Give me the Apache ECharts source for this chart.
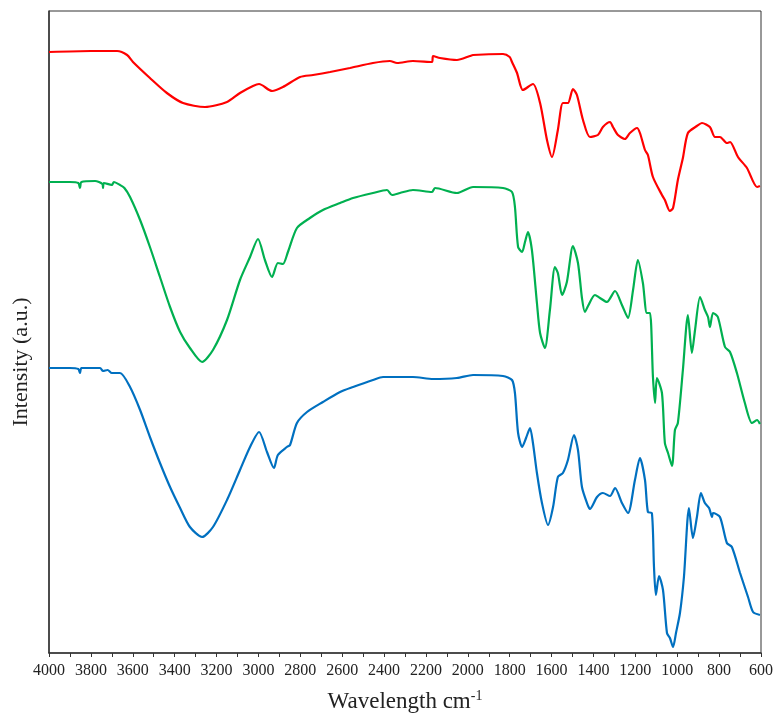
<!DOCTYPE html>
<html>
<head>
<meta charset="utf-8">
<script src="https://cdn.jsdelivr.net/npm/echarts@6/dist/echarts.min.js"></script>
<style>html,body{margin:0;padding:0;background:#fff}#c{width:778px;height:724px}</style>
</head>
<body>
<div id="c"></div>
<script>
// x: wavenumber (cm-1), y: intensity (a.u.)
const redSeries = [[4000,601],[3800,602],[3675,602],[3627,598],[3599,591],[3518,575],[3437,560],[3360,550],[3255,546],[3150,551],[3088,560],[3026,567],[2997,569],[2935,562],[2883,566],[2801,576],[2739,578],[2658,581],[2563,585],[2453,590],[2372,592],[2338,590],[2262,592],[2171,591],[2166,597],[2133,595],[2052,593],[1990,597],[1975,598],[1832,599],[1800,596],[1789,591],[1765,580],[1737,563],[1689,569],[1655,550],[1622,513],[1598,496],[1570,523],[1546,550],[1522,550],[1498,564],[1479,558],[1450,533],[1417,516],[1379,518],[1355,526],[1321,531],[1307,526],[1283,518],[1250,514],[1226,520],[1192,525],[1178,520],[1154,503],[1140,498],[1116,476],[1073,458],[1059,453],[1035,442],[1020,445],[997,473],[973,495],[949,520],[906,527],[882,530],[844,526],[820,516],[796,516],[763,510],[748,511],[710,496],[667,485],[619,466],[605,467]];

const greenSeries = [[4000,471],[3900,471],[3860,470],[3852,465],[3845,471],[3780,472],[3745,469],[3742,465],[3738,470],[3700,468],[3690,471],[3661,468],[3640,465],[3613,456],[3565,433],[3518,406],[3470,376],[3422,346],[3374,321],[3327,305],[3269,291],[3217,303],[3150,333],[3088,373],[3040,396],[3002,414],[2969,393],[2935,376],[2907,390],[2883,389],[2859,401],[2816,425],[2754,435],[2692,443],[2610,450],[2548,455],[2453,460],[2386,463],[2362,458],[2324,460],[2262,463],[2171,461],[2157,465],[2052,460],[1975,466],[1832,465],[1789,461],[1775,446],[1760,406],[1741,401],[1727,411],[1713,421],[1694,403],[1670,350],[1655,320],[1632,305],[1608,343],[1584,386],[1570,380],[1550,358],[1527,371],[1498,407],[1474,390],[1455,355],[1441,341],[1426,347],[1393,358],[1369,355],[1336,351],[1297,362],[1264,348],[1235,335],[1211,363],[1188,393],[1164,370],[1145,340],[1130,340],[1116,276],[1106,250],[1097,275],[1073,260],[1059,210],[1044,200],[1025,187],[1011,223],[997,230],[973,283],[949,338],[930,300],[915,323],[891,356],[868,343],[853,336],[844,326],[829,340],[806,336],[772,306],[748,301],[715,280],[677,250],[643,230],[619,233],[605,229]];

const blueSeries = [[4000,285],[3900,285],[3860,284],[3852,280],[3845,285],[3756,285],[3742,282],[3720,283],[3700,280],[3661,280],[3613,266],[3565,243],[3518,216],[3470,190],[3422,166],[3374,145],[3327,126],[3269,116],[3217,126],[3150,153],[3088,183],[3040,206],[2997,221],[2959,201],[2926,185],[2907,198],[2864,206],[2849,208],[2816,230],[2768,241],[2692,251],[2610,261],[2548,266],[2453,273],[2405,276],[2262,276],[2166,274],[2052,275],[1975,278],[1832,277],[1789,273],[1775,260],[1760,220],[1741,206],[1722,215],[1703,225],[1689,210],[1670,180],[1646,150],[1617,128],[1593,146],[1570,176],[1546,180],[1522,193],[1493,218],[1474,203],[1455,166],[1431,150],[1417,144],[1383,156],[1355,160],[1321,157],[1297,165],[1264,150],[1235,140],[1202,173],[1178,195],[1154,173],[1140,141],[1121,140],[1111,86],[1102,58],[1087,77],[1068,63],[1049,20],[1035,15],[1020,6],[1006,20],[987,40],[968,76],[944,145],[925,115],[906,136],[887,160],[868,150],[848,145],[834,136],[829,140],[796,136],[763,110],[739,106],[700,80],[662,56],[638,41],[605,38]];

const xMin = 600, xMax = 4000, xStep = 100, xLabelStep = 200;

const chart = echarts.init(document.getElementById('c'));
const mk = (data, color) => ({
  type: 'line', data: data, showSymbol: false, smooth: 0.25,
  lineStyle: { color: color, width: 2.2 }, itemStyle: { color: color }, animation: false
});
chart.setOption({
  backgroundColor: '#fff',
  animation: false,
  grid: { left: 49, right: 17, top: 11, bottom: 71, show: true, borderColor: '#333', borderWidth: 1,
    containLabel: false, outerBoundsMode: 'none' },
  xAxis: {
    type: 'value', inverse: true, min: xMin, max: xMax, interval: xStep,
    axisLine: { show: true, lineStyle: { color: '#333', width: 1.5 } },
    axisTick: { show: true, inside: false, length: 4, lineStyle: { color: '#333' } },
    splitLine: { show: false },
    axisLabel: { fontFamily: 'Liberation Serif', fontSize: 16, color: '#222', margin: 10,
      formatter: v => (v % xLabelStep === 0 ? String(v) : '') },
    name: 'Wavelength cm{sup|-1}', nameLocation: 'middle', nameGap: 36,
    nameTextStyle: { fontFamily: 'Liberation Serif', fontSize: 23, color: '#222',
      rich: { sup: { fontFamily: 'Liberation Serif', fontSize: 14, color: '#222', verticalAlign: 'top', padding: [0,0,12,0] } } }
  },
  yAxis: {
    type: 'value', min: 0, max: 642,
    axisLine: { show: true, lineStyle: { color: '#333', width: 1.5 } },
    axisTick: { show: false }, axisLabel: { show: false }, splitLine: { show: false },
    name: 'Intensity (a.u.)', nameLocation: 'middle', nameGap: 17, nameRotate: 90,
    nameTextStyle: { fontFamily: 'Liberation Serif', fontSize: 22, color: '#222', padding: [0, 60, 0, 0] }
  },
  series: [mk(redSeries, '#ff0000'), mk(greenSeries, '#00b050'), mk(blueSeries, '#0070c0')]
});
</script>
</body>
</html>
